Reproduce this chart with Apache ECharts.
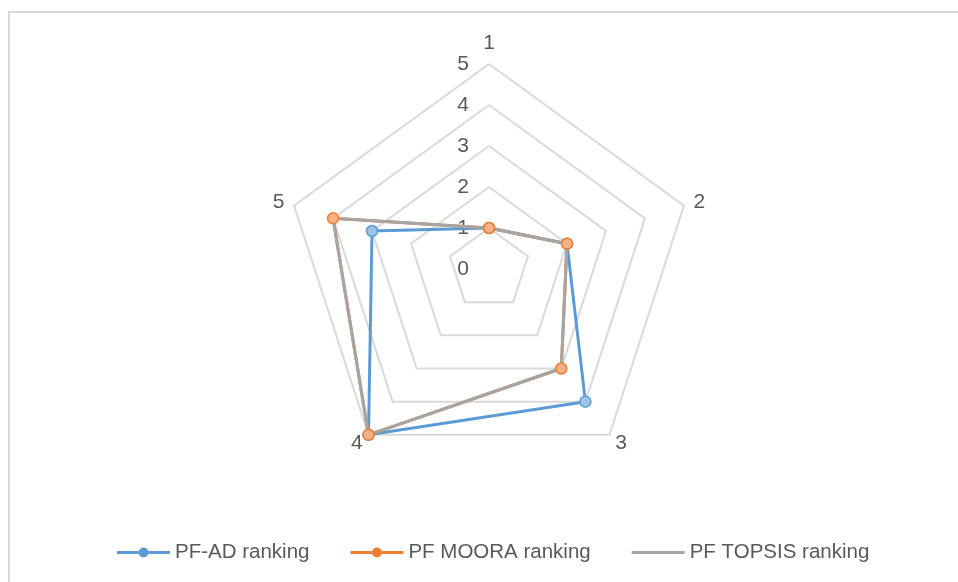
<!doctype html>
<html lang="en">
<head>
<meta charset="UTF-8">
<title>ranking radar</title>
<script src="https://cdn.jsdelivr.net/npm/echarts@6/dist/echarts.min.js"></script>
<style>
    html, body { margin: 0; padding: 0; background: #fff; }
    .frame {
        position: absolute; left: 8px; top: 11px;
        width: 1000px; height: 1000px;
        border-left: 2px solid #d9d9d9; border-top: 2px solid #d9d9d9;
    }
    #main { position: absolute; left: 0; top: 0; width: 958px; height: 582px; }
</style>
</head>
<body>
<div class="frame"></div>
<div id="main"></div>
<script>
    // axes of the radar, in the order Excel draws them (clockwise from the top)
    var criteria = ['1', '2', '3', '4', '5'];
    var pfAd = [1, 2, 4, 5, 3];
    var pfMoora = [1, 2, 3, 5, 4];
    var pfTopsis = [1, 2, 3, 5, 4];
    var ticks = [0, 1, 2, 3, 4, 5];
    var seriesNames = ['PF-AD ranking', 'PF MOORA ranking', 'PF TOPSIS ranking'];

    var textColor = '#595959';
    var font = 'Liberation Sans, Arial, sans-serif';

    // echarts walks the indicators counter-clockwise, so flip the order
    var order = [0, 4, 3, 2, 1];
    function pick(arr) {
        return order.map(function (i) { return arr[i]; });
    }

    var indicators = pick(criteria).map(function (c, i) {
        var ind = { name: c, min: ticks[0], max: ticks[ticks.length - 1] };
        if (i === 0) {
            // numbers only on the vertical axis
            ind.axisLabel = { show: true };
        }
        return ind;
    });

    var iconPath = 'path://M0,4.5H21.5V7.5H0Z M31.5,4.5H53V7.5H31.5Z ' +
        'M21.5,6A5,5,0,1,1,31.5,6A5,5,0,1,1,21.5,6Z';

    var myChart = echarts.init(document.getElementById('main'));
    var option = {
        animation: false,
        textStyle: { fontFamily: font },
        legend: {
            left: 112,
            top: 537,
            itemWidth: 53,
            itemHeight: 12,
            itemGap: 41,
            textStyle: { color: textColor, fontSize: 20.5, fontFamily: font },
            data: [
                { name: seriesNames[0], icon: iconPath, itemStyle: { color: '#5b9bd5', borderWidth: 0 } },
                { name: seriesNames[1], icon: iconPath, itemStyle: { color: '#ed7d31', borderWidth: 0 } },
                { name: seriesNames[2], icon: 'path://M0,4.5H53V7.5H0Z', itemStyle: { color: '#a5a5a5', borderWidth: 0 } }
            ]
        },
        radar: {
            center: [489, 269],
            radius: 205,
            startAngle: 90,
            shape: 'polygon',
            splitNumber: 5,
            nameGap: 10,
            axisName: { color: textColor, fontSize: 21, fontFamily: font },
            axisLine: { show: false },
            axisTick: { show: false },
            axisLabel: { show: false, color: textColor, fontSize: 21, margin: 20, fontFamily: font },
            splitLine: { lineStyle: { color: '#d9d9d9', width: 2 } },
            splitArea: { show: false },
            indicator: indicators
        },
        series: [{
            name: seriesNames[0],
            type: 'radar',
            symbol: 'circle',
            symbolSize: 11,
            itemStyle: { color: '#9dc3e6', borderColor: '#5b9bd5', borderWidth: 1.5 },
            lineStyle: { color: '#5b9bd5', width: 3 },
            data: [{ name: seriesNames[0], value: pick(pfAd) }]
        }, {
            name: seriesNames[1],
            type: 'radar',
            symbol: 'circle',
            symbolSize: 11,
            itemStyle: { color: '#f4b183', borderColor: '#ed7d31', borderWidth: 1.5 },
            lineStyle: { color: '#ed7d31', width: 3 },
            data: [{ name: seriesNames[1], value: pick(pfMoora) }]
        }, {
            name: seriesNames[2],
            type: 'radar',
            symbol: 'none',
            itemStyle: { color: '#a5a5a5' },
            lineStyle: { color: '#a5a5a5', width: 3 },
            data: [{ name: seriesNames[2], value: pick(pfTopsis) }]
        }]
    };
    myChart.setOption(option);
</script>
</body>
</html>
